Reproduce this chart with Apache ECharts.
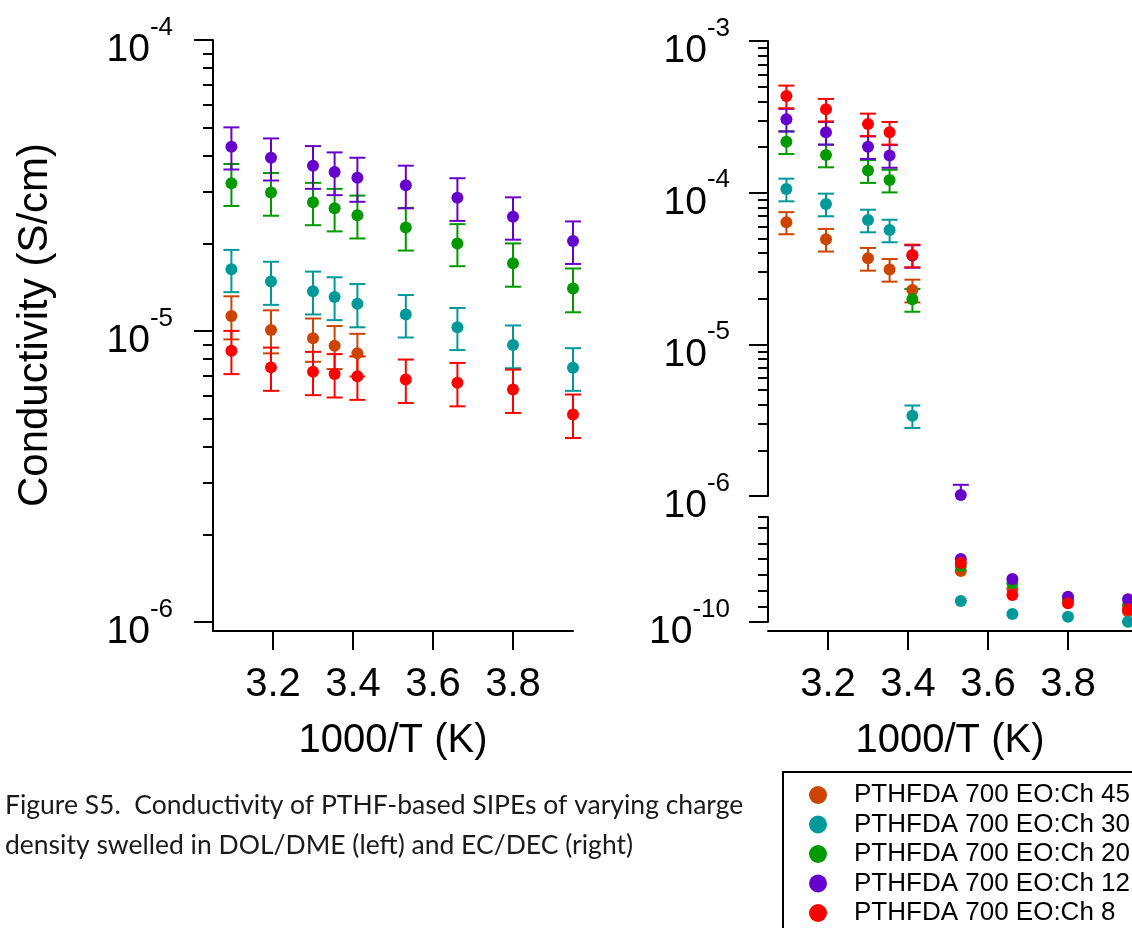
<!DOCTYPE html>
<html>
<head>
<meta charset="utf-8">
<script src="https://cdn.jsdelivr.net/npm/echarts@6/dist/echarts.min.js"></script>
<style>html,body{margin:0;padding:0;background:#fff}#c{width:1132px;height:928px}</style>
</head>
<body>
<div id="c"></div>
<script>
// ---------------- data ----------------
const seriesNames = ['PTHFDA 700 EO:Ch 45', 'PTHFDA 700 EO:Ch 30', 'PTHFDA 700 EO:Ch 20', 'PTHFDA 700 EO:Ch 12', 'PTHFDA 700 EO:Ch 8'];
const seriesColors = ['#CC4400', '#009999', '#009900', '#6600CC', '#FF0000'];

// 1000/T values
const xTemps = [3.096, 3.195, 3.300, 3.354, 3.411, 3.532, 3.661, 3.800, 3.950];

// Left panel (DOL/DME) conductivity, S/cm, and +/- error
const leftCh45 = [1.126e-5, 1.008e-5, 9.44e-6, 8.90e-6, 8.38e-6];
const leftCh45Err = [1.9e-6, 1.7e-6, 1.6e-6, 1.5e-6, 1.4e-6];
const leftCh30 = [1.63e-5, 1.48e-5, 1.37e-5, 1.31e-5, 1.24e-5, 1.14e-5, 1.03e-5, 8.95e-6, 7.48e-6];
const leftCh30Err = [2.7e-6, 2.5e-6, 2.3e-6, 2.2e-6, 2.1e-6, 1.9e-6, 1.7e-6, 1.5e-6, 1.25e-6];
const leftCh20 = [3.22e-5, 2.99e-5, 2.77e-5, 2.64e-5, 2.50e-5, 2.27e-5, 2.00e-5, 1.71e-5, 1.40e-5];
const leftCh20Err = [5.3e-6, 5.0e-6, 4.6e-6, 4.4e-6, 4.2e-6, 3.8e-6, 3.3e-6, 2.9e-6, 2.4e-6];
const leftCh12 = [4.30e-5, 3.94e-5, 3.70e-5, 3.52e-5, 3.36e-5, 3.17e-5, 2.87e-5, 2.47e-5, 2.04e-5];
const leftCh12Err = [7.1e-6, 6.5e-6, 6.2e-6, 5.9e-6, 5.8e-6, 5.3e-6, 4.8e-6, 4.1e-6, 3.4e-6];
const leftCh8 = [8.56e-6, 7.50e-6, 7.25e-6, 7.12e-6, 6.99e-6, 6.82e-6, 6.64e-6, 6.30e-6, 5.17e-6];
const leftCh8Err = [1.45e-6, 1.27e-6, 1.23e-6, 1.21e-6, 1.19e-6, 1.16e-6, 1.13e-6, 1.07e-6, 0.88e-6];

// Right panel (EC/DEC), upper segment (first temperatures)
const rightCh45 = [6.38e-5, 4.93e-5, 3.69e-5, 3.12e-5, 2.28e-5];
const rightCh45Err = [1.06e-5, 0.84e-5, 0.63e-5, 0.53e-5, 0.39e-5];
const rightCh30 = [1.057e-4, 8.42e-5, 6.60e-5, 5.67e-5, 3.38e-6];
const rightCh30Err = [1.8e-5, 1.43e-5, 1.12e-5, 0.96e-5, 0.57e-6];
const rightCh20 = [2.17e-4, 1.77e-4, 1.40e-4, 1.21e-4, 1.98e-5];
const rightCh20Err = [3.7e-5, 3.0e-5, 2.4e-5, 2.06e-5, 0.34e-5];
const rightCh12 = [3.05e-4, 2.50e-4, 2.01e-4, 1.76e-4, 3.85e-5, 1.015e-6];
const rightCh12Err = [5.2e-5, 4.25e-5, 3.4e-5, 3.0e-5, 0.65e-5, 1.7e-7];
const rightCh8 = [4.34e-4, 3.55e-4, 2.84e-4, 2.50e-4, 3.88e-5];
const rightCh8Err = [7.4e-5, 6.0e-5, 4.8e-5, 4.25e-5, 0.66e-5];

// Right panel, lower segment (low temperatures, x = 3.532 .. 3.950)
const xLow = [3.532, 3.661, 3.800, 3.950];
const lowCh45 = [1.325e-10, 1.210e-10, 1.134e-10, 1.066e-10];
const lowCh30 = [1.134e-10, 1.051e-10, 1.034e-10, 1.002e-10];
const lowCh20 = [1.357e-10, 1.248e-10, 1.140e-10, 1.108e-10];
const lowCh12 = [1.401e-10, 1.274e-10, 1.161e-10, 1.145e-10];
const lowCh8 = [1.376e-10, 1.172e-10, 1.119e-10, 1.081e-10];

// ticks
const xTicks = [3.2, 3.4, 3.6, 3.8];
const leftMajor = [1e-6, 1e-5, 1e-4];
const rightMajor = [1e-6, 1e-5, 1e-4, 1e-3];
const lowMajor = [1e-10];
const lowMinor = [1.1e-10, 1.2e-10, 1.3e-10, 1.4e-10, 1.5e-10, 1.6e-10, 1.668e-10];
const captionLines = ['Figure S5.  Conductivity of PTHF-based SIPEs of varying charge',
                      'density swelled in DOL/DME (left) and EC/DEC (right)'];

// ---------------- helpers ----------------
function minorTicks(decades) {
  const out = [];
  decades.forEach(d => { for (let k = 2; k <= 9; k++) out.push(k * d); });
  return out;
}
const FONT = 'Liberation Sans, Arial, sans-serif';
const LEFT_MIN = 9.314e-7, LEFT_MAX = 1.0002e-4;
const RU_MIN = 0.9998e-6, RU_MAX = 1.0002e-3;
const LOW_MIN = 1e-10, LOW_MAX = 1.668e-10;

function pow10Label(v) {
  const e = Math.round(Math.log10(v));
  return '{b|10}{s|' + e + '}';
}
const powRich = {
  b: { fontSize: 39, fontFamily: FONT, color: '#000', lineHeight: 72, verticalAlign: 'middle' },
  s: { fontSize: 26, fontFamily: FONT, color: '#000', lineHeight: 27, verticalAlign: 'top' }
};

function zip(xs, ys, es) {
  return ys.map((y, i) => es ? [xs[i], y, es[i]] : [xs[i], y]);
}

function errRender(minV, maxV) {
  return function (params, api) {
    const x = api.value(0), y = api.value(1), e = api.value(2);
    let lo = y - e, hi = y + e;
    const loClip = lo < minV, hiClip = hi > maxV;
    if (loClip) lo = minV;
    if (hiClip) hi = maxV;
    const p1 = api.coord([x, hi]);
    const p2 = api.coord([x, lo]);
    const style = { stroke: api.visual('color'), lineWidth: 2, fill: null };
    const children = [{ type: 'line', shape: { x1: p1[0], y1: p1[1], x2: p2[0], y2: p2[1] }, style: style }];
    if (!hiClip) children.push({ type: 'line', shape: { x1: p1[0] - 8, y1: p1[1], x2: p1[0] + 8, y2: p1[1] }, style: style });
    if (!loClip) children.push({ type: 'line', shape: { x1: p2[0] - 8, y1: p2[1], x2: p2[0] + 8, y2: p2[1] }, style: style });
    return { type: 'group', children: children };
  };
}

const leftSets = [[leftCh45, leftCh45Err], [leftCh30, leftCh30Err], [leftCh20, leftCh20Err], [leftCh12, leftCh12Err], [leftCh8, leftCh8Err]];
const rightSets = [[rightCh45, rightCh45Err], [rightCh30, rightCh30Err], [rightCh20, rightCh20Err], [rightCh12, rightCh12Err], [rightCh8, rightCh8Err]];
const lowSets = [lowCh45, lowCh30, lowCh20, lowCh12, lowCh8];

const series = [];
function addPanel(sets, xAxisIndex, yAxisIndex, minV, maxV) {
  sets.forEach((s, i) => {
    series.push({
      type: 'custom', xAxisIndex, yAxisIndex, silent: true,
      itemStyle: { color: seriesColors[i] },
      renderItem: errRender(minV, maxV),
      encode: { x: 0, y: 1 },
      data: zip(xTemps, s[0], s[1])
    });
    series.push({
      type: 'scatter', name: seriesNames[i], xAxisIndex, yAxisIndex,
      symbol: 'circle', symbolSize: 12, clip: false,
      itemStyle: { color: seriesColors[i], opacity: 1 },
      data: zip(xTemps, s[0])
    });
  });
}
addPanel(leftSets, 0, 0, LEFT_MIN, LEFT_MAX);
addPanel(rightSets, 1, 2, RU_MIN, RU_MAX);
lowSets.forEach((s, i) => {
  series.push({
    type: 'scatter', name: seriesNames[i], xAxisIndex: 2, yAxisIndex: 4,
    symbol: 'circle', symbolSize: 12, clip: false,
    itemStyle: { color: seriesColors[i], opacity: 1 },
    data: zip(xLow, s)
  });
});

const axLine = { show: true, lineStyle: { color: '#000', width: 2 } };
function xAxisCfg(gridIndex, min, max, show, offset) {
  return {
    type: 'value', gridIndex, min, max, show, offset: offset || 0, position: 'bottom',
    axisLine: axLine,
    axisTick: { show: true, length: 19, lineStyle: { color: '#000', width: 2 }, customValues: xTicks },
    axisLabel: { show: true, customValues: xTicks, fontSize: 40, fontFamily: FONT, color: '#000', margin: 34,
                 formatter: v => v.toFixed(1) },
    splitLine: { show: false },
    name: '1000/T (K)', nameLocation: 'middle', nameGap: 90,
    nameTextStyle: { fontSize: 40, fontFamily: FONT, color: '#000' }
  };
}
function yMajor(gridIndex, type, min, max, ticks, margin) {
  return {
    type, gridIndex, min, max, position: 'left',
    axisLine: axLine,
    axisTick: { show: true, length: 19, lineStyle: { color: '#000', width: 2 }, customValues: ticks },
    axisLabel: { show: true, customValues: ticks, formatter: pow10Label, rich: powRich, margin: margin, padding: [21, 0, 0, 0] },
    splitLine: { show: false }, minorTick: { show: false }
  };
}
function yMinor(gridIndex, type, min, max, ticks) {
  return {
    type, gridIndex, min, max, position: 'left',
    axisLine: { show: false },
    axisTick: { show: true, length: 10, lineStyle: { color: '#000', width: 2 }, customValues: ticks },
    axisLabel: { show: false },
    splitLine: { show: false }
  };
}

const option = {
  animation: false,
  backgroundColor: '#fff',
  textStyle: { fontFamily: FONT },
  grid: [
    { left: 213, top: 40, width: 360, height: 591, containLabel: false, outerBoundsMode: 'none' },
    { left: 768, top: 41, width: 364, height: 455, containLabel: false, outerBoundsMode: 'none' },
    { left: 768, top: 517, width: 364, height: 105, containLabel: false, outerBoundsMode: 'none' }
  ],
  xAxis: [
    xAxisCfg(0, 3.05, 3.95, true, 0),
    xAxisCfg(1, 3.05, 3.96, false, 0),
    xAxisCfg(2, 3.05, 3.96, true, 9)
  ],
  yAxis: [
    yMajor(0, 'log', LEFT_MIN, LEFT_MAX, leftMajor, 40),
    yMinor(0, 'log', LEFT_MIN, LEFT_MAX, minorTicks([1e-6, 1e-5])),
    yMajor(1, 'log', RU_MIN, RU_MAX, rightMajor, 38),
    yMinor(1, 'log', RU_MIN, RU_MAX, minorTicks([1e-6, 1e-5, 1e-4])),
    yMajor(2, 'value', LOW_MIN, LOW_MAX, lowMajor, 38),
    yMinor(2, 'value', LOW_MIN, LOW_MAX, lowMinor)
  ],
  legend: {
    show: true, orient: 'vertical', left: 783, top: 772, height: 300,
    data: seriesNames.map(n => ({ name: n, icon: 'circle' })),
    itemWidth: 18, itemHeight: 18, itemGap: 3.5,
    padding: [10, 60, 30, 26],
    borderColor: '#000', borderWidth: 2, backgroundColor: '#fff',
    textStyle: { fontSize: 26, fontFamily: FONT, color: '#000', lineHeight: 26, padding: [0, 0, 0, 22] },
    selectedMode: false
  },
  graphic: [
    { type: 'text', x: 35, y: 325, rotation: Math.PI / 2,
      style: { text: 'Conductivity (S/cm)', fontSize: 42, fontFamily: FONT, fill: '#000',
               textAlign: 'center', textVerticalAlign: 'middle', verticalAlign: 'middle', align: 'center' } },
    { type: 'text', x: 5, y: 805,
      style: { text: captionLines[0], fontSize: 26.5, fontFamily: 'Lato, sans-serif', fill: '#1a1a1a',
               textVerticalAlign: 'middle', verticalAlign: 'middle' } },
    { type: 'text', x: 5, y: 845,
      style: { text: captionLines[1], fontSize: 26.5, fontFamily: 'Lato, sans-serif', fill: '#1a1a1a',
               textVerticalAlign: 'middle', verticalAlign: 'middle' } }
  ],
  series: series
};

const chart = echarts.init(document.getElementById('c'), null, { renderer: 'canvas' });
chart.setOption(option);
</script>
</body>
</html>
